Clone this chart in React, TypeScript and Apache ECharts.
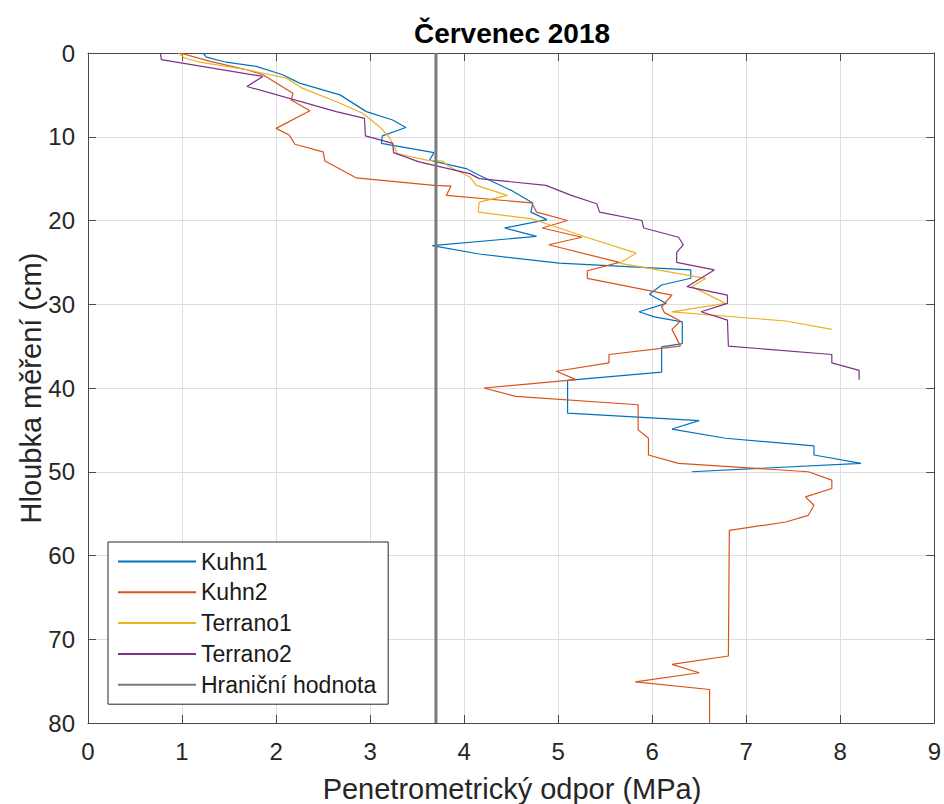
import React, { useEffect, useRef } from "react";
import * as echarts from "echarts";

// ---- data (depth in cm, resistance in MPa) ----
const kuhn1Depth = [0, 0.5, 1.1, 1.6, 2.6, 3.6, 5, 7, 8, 8.9, 9.9, 10.8, 11.9, 12.8, 13.8, 14.6, 16.4, 17.9, 19, 19.9, 20.9, 21.9, 23, 24, 25.1, 25.9, 26.9, 27.7, 28.8, 29.9, 30.9, 31.5, 32.1, 34.7, 35.1, 38.1, 39, 39.1, 43, 43.9, 44.9, 46, 46.9, 48, 49, 50];
const kuhn1Value = [1.22, 1.26, 1.47, 1.79, 2.07, 2.25, 2.68, 2.96, 3.24, 3.38, 3.13, 3.12, 3.68, 3.63, 4.02, 4.16, 4.5, 4.73, 4.71, 4.88, 4.43, 4.77, 3.66, 4.16, 5.01, 6.41, 6.41, 6.1, 5.97, 6.15, 5.86, 6.02, 6.32, 6.32, 6.1, 6.1, 5.19, 5.1, 5.1, 6.5, 6.21, 6.78, 7.72, 7.72, 8.22, 6.42];

const kuhn2Depth = [0, 1, 2, 2.6, 4.8, 5.6, 6.9, 9, 9.8, 10.9, 11.8, 12.9, 14.9, 15.8, 15.9, 17, 17.9, 19, 20, 20.9, 22, 22.9, 25, 26, 26.9, 28.9, 30.3, 31, 32, 33, 35, 36, 37, 38, 39, 40, 41, 42, 45, 46, 48, 49, 50, 51, 52, 53, 54, 55.2, 56, 57, 72, 73, 74, 75.1, 76, 80];
const kuhn2Value = [0.98, 1.3, 1.69, 1.86, 2.18, 2.16, 2.36, 2.0, 2.14, 2.2, 2.5, 2.52, 2.85, 3.68, 3.86, 3.81, 4.72, 4.77, 5.1, 4.83, 5.25, 4.9, 5.65, 5.31, 5.31, 6.21, 6.1, 6.13, 6.3, 6.21, 6.3, 5.54, 5.54, 4.98, 5.19, 4.21, 4.55, 5.85, 5.85, 5.96, 5.96, 6.28, 7.66, 7.91, 7.91, 7.63, 7.72, 7.66, 7.42, 6.82, 6.81, 6.21, 6.5, 5.82, 6.61, 6.61];

const terrano1Depth = [0, 0.6, 1.1, 2, 3, 4.2, 6, 7.2, 8.8, 10, 10.8, 12, 12.8, 12.9, 13.5, 14.8, 15.8, 17, 17.8, 19, 19.8, 20.9, 22, 23.9, 25.1, 26.9, 27.9, 29.9, 30.9, 32, 33];
const terrano1Value = [0.96, 1.03, 1.19, 1.69, 2.11, 2.28, 2.68, 2.92, 3.1, 3.2, 3.24, 3.29, 3.6, 3.77, 3.83, 4.06, 4.13, 4.46, 4.16, 4.15, 4.72, 5.01, 5.3, 5.83, 5.65, 6.57, 6.42, 6.78, 6.21, 7.42, 7.91];

const terrano2Depth = [0, 0.8, 2.8, 4, 7, 7.8, 9.9, 10.8, 11.9, 13, 14.4, 15, 15.8, 17, 18, 19, 20, 20.9, 22, 22.9, 23.8, 25, 25.9, 27.9, 28.9, 29.9, 30.9, 31.9, 35, 36, 37, 37.9, 39];
const terrano2Value = [0.77, 0.78, 1.86, 1.69, 2.64, 2.94, 2.95, 3.24, 3.25, 3.52, 4.06, 4.16, 4.87, 5.14, 5.41, 5.44, 5.89, 5.91, 6.28, 6.33, 6.26, 6.26, 6.66, 6.37, 6.8, 6.8, 6.52, 6.8, 6.81, 7.91, 7.91, 8.2, 8.2];

const thresholdValue = 3.7;
const thresholdDepth = [0, 80];

const seriesNames = ["Kuhn1", "Kuhn2", "Terrano1", "Terrano2", "Hraniční hodnota"];
const xTicks = { min: 0, max: 9, interval: 1 };
const yTicks = { min: 0, max: 80, interval: 10 };

const titleText = "Červenec 2018";
const xAxisName = "Penetrometrický odpor (MPa)";
const yAxisName = "Hloubka měření (cm)";

const FONT = "'Liberation Sans', Arial, Helvetica, sans-serif";
const AXIS_COLOR = "#4a4a4a";

function pairs(values: number[], depths: number[]) {
  return values.map((v, i) => [v, depths[i]]);
}

export default function App() {
  const ref = useRef<HTMLDivElement>(null);

  useEffect(() => {
    if (!ref.current) return;
    const chart = echarts.init(ref.current, undefined, { renderer: "svg" });

    const lineSeries = (name: string, data: number[][], color: string, width: number) => ({
      name,
      type: "line",
      data,
      xAxisIndex: 0,
      yAxisIndex: 0,
      symbol: "none",
      showSymbol: false,
      color,
      lineStyle: { color, width },
      z: 2,
    });

    const grid = { left: 88, top: 53, width: 848, height: 670 };

    chart.setOption({
      animation: false,
      backgroundColor: "#ffffff",
      textStyle: { fontFamily: FONT },
      grid: { ...grid, containLabel: false },
      xAxis: [
        {
          type: "value",
          position: "bottom",
          min: xTicks.min,
          max: xTicks.max,
          interval: xTicks.interval,
          axisLine: { show: true, onZero: false, lineStyle: { color: AXIS_COLOR, width: 1 } },
          axisTick: { show: true, inside: true, length: 8, lineStyle: { color: AXIS_COLOR } },
          axisLabel: { show: true, fontSize: 24, color: "#262626", margin: 16, fontFamily: FONT },
          splitLine: { show: true, lineStyle: { color: "#dedede", width: 1 } },
        },
        {
          type: "value",
          position: "top",
          min: xTicks.min,
          max: xTicks.max,
          interval: xTicks.interval,
          axisLine: { show: true, onZero: false, lineStyle: { color: AXIS_COLOR, width: 1 } },
          axisTick: { show: true, inside: true, length: 8, lineStyle: { color: AXIS_COLOR } },
          axisLabel: { show: false },
          splitLine: { show: false },
        },
      ],
      yAxis: [
        {
          type: "value",
          position: "left",
          inverse: true,
          min: yTicks.min,
          max: yTicks.max,
          interval: yTicks.interval,
          axisLine: { show: true, onZero: false, lineStyle: { color: AXIS_COLOR, width: 1 } },
          axisTick: { show: true, inside: true, length: 8, lineStyle: { color: AXIS_COLOR } },
          axisLabel: { show: true, fontSize: 24, color: "#262626", margin: 13, fontFamily: FONT },
          splitLine: { show: true, lineStyle: { color: "#dedede", width: 1 } },
        },
        {
          type: "value",
          position: "right",
          inverse: true,
          min: yTicks.min,
          max: yTicks.max,
          interval: yTicks.interval,
          axisLine: { show: true, onZero: false, lineStyle: { color: AXIS_COLOR, width: 1 } },
          axisTick: { show: true, inside: true, length: 8, lineStyle: { color: AXIS_COLOR } },
          axisLabel: { show: false },
          splitLine: { show: false },
        },
      ],
      legend: {
        show: true,
        data: seriesNames,
        orient: "vertical",
        left: 108,
        top: 542,
        padding: [8, 12, 8, 9],
        itemWidth: 78,
        itemHeight: 22,
        itemGap: 7.8,
        backgroundColor: "#ffffff",
        borderColor: "#262626",
        borderWidth: 1,
        borderRadius: 0,
        z: 10,
        itemStyle: { opacity: 0, borderWidth: 0 },
        textStyle: { fontSize: 23, lineHeight: 22, color: "#1a1a1a", fontFamily: FONT },
      },
      graphic: [
        {
          type: "text",
          x: 512,
          y: 33,
          style: {
            text: titleText,
            fill: "#000000",
            font: `bold 28px ${FONT}`,
            align: "center",
            verticalAlign: "middle",
          },
        },
        {
          type: "text",
          x: 512,
          y: 789,
          style: {
            text: xAxisName,
            fill: "#262626",
            font: `29px ${FONT}`,
            align: "center",
            verticalAlign: "middle",
          },
        },
        {
          type: "text",
          x: 31,
          y: 388,
          rotation: Math.PI / 2,
          style: {
            text: yAxisName,
            fill: "#262626",
            font: `29px ${FONT}`,
            align: "center",
            verticalAlign: "middle",
          },
        },
      ],
      series: [
        lineSeries(seriesNames[0], pairs(kuhn1Value, kuhn1Depth), "#0072BD", 1.2),
        lineSeries(seriesNames[1], pairs(kuhn2Value, kuhn2Depth), "#D95319", 1.2),
        lineSeries(seriesNames[2], pairs(terrano1Value, terrano1Depth), "#EDB120", 1.2),
        lineSeries(seriesNames[3], pairs(terrano2Value, terrano2Depth), "#7E2F8E", 1.2),
        lineSeries(
          seriesNames[4],
          thresholdDepth.map((d) => [thresholdValue, d]),
          "#7a7a7a",
          3
        ),
      ],
    });

    return () => {
      chart.dispose();
    };
  }, []);

  return (
    <div
      ref={ref}
      style={{ position: "absolute", left: 0, top: 0, width: 944, height: 804 }}
    />
  );
}
